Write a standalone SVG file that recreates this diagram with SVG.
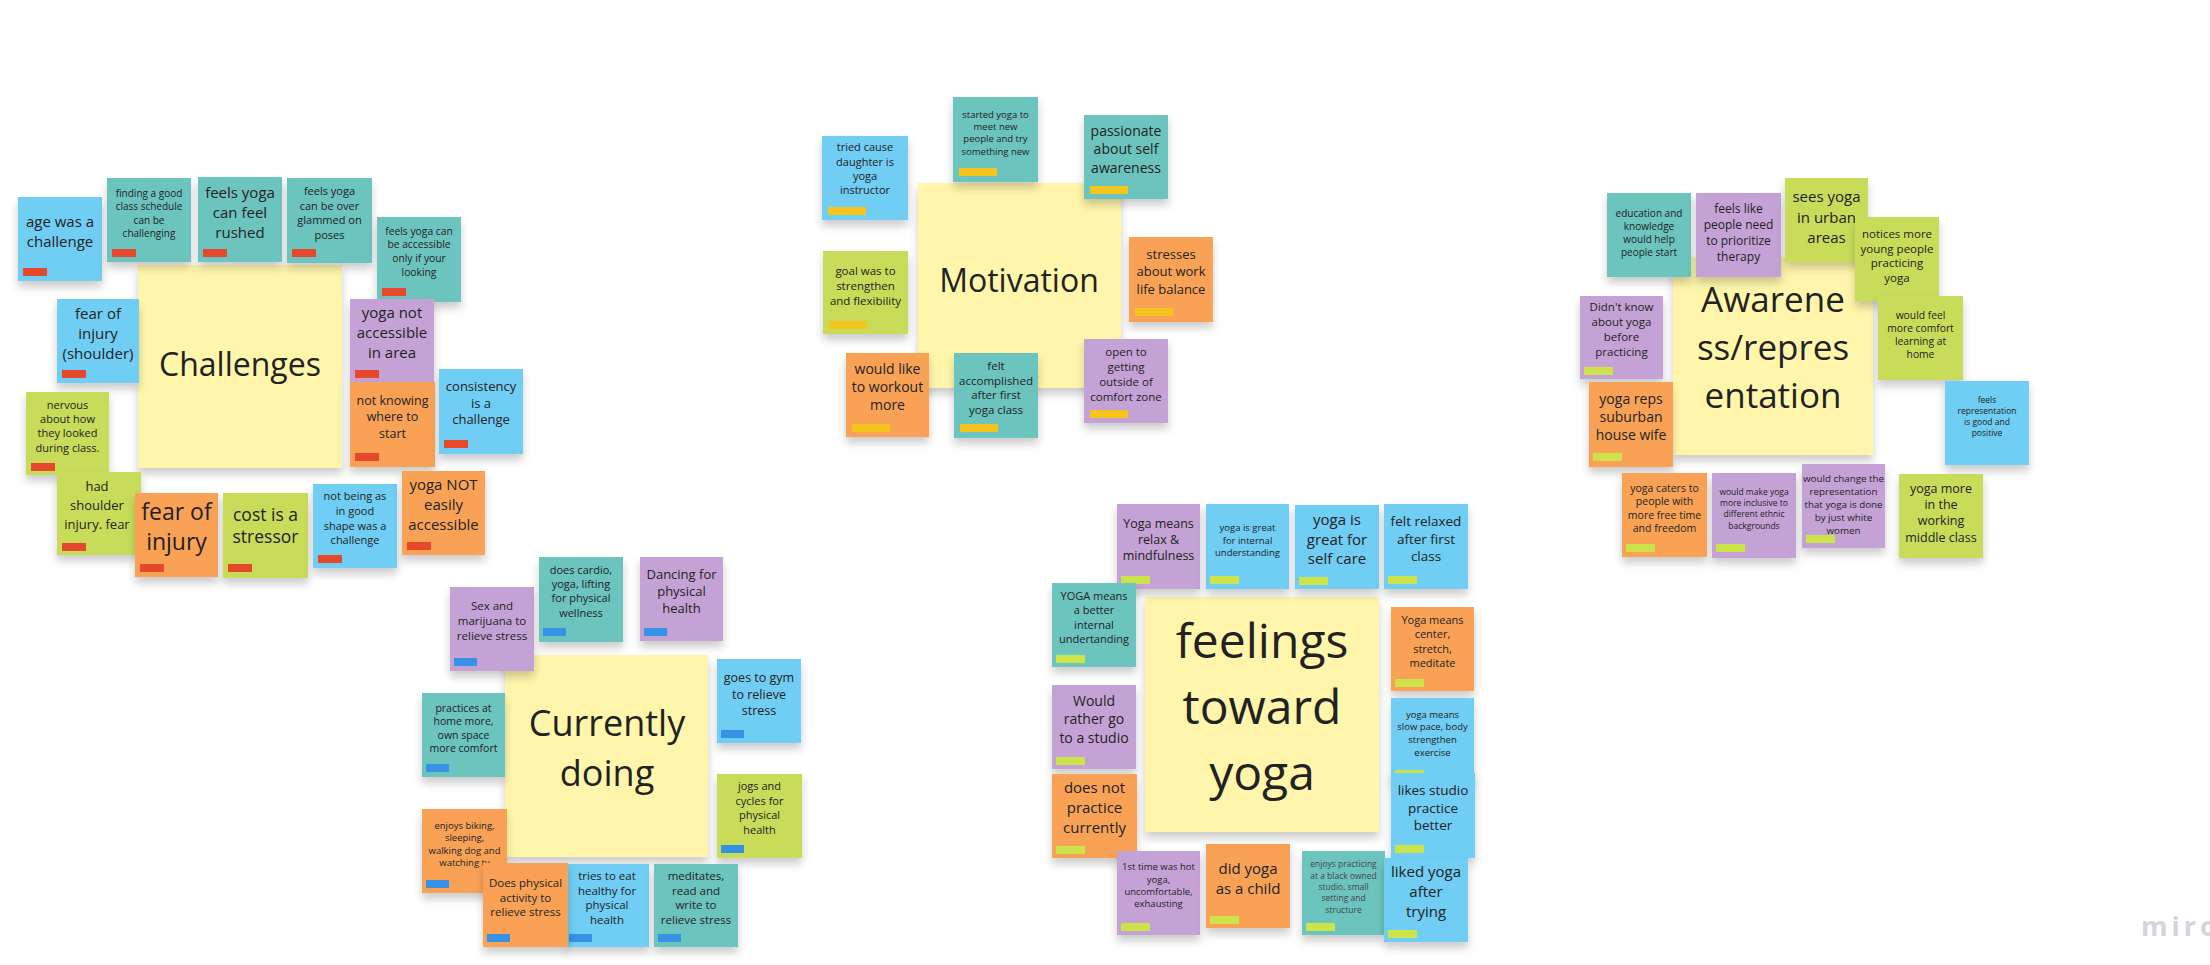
<svg xmlns="http://www.w3.org/2000/svg" width="2210" height="965" viewBox="0 0 2210 965">
<style>
.bg{fill:#ffffff}
.note rect.s{filter:url(#sh)}
.blue{fill:#6fcdf3}.teal{fill:#6cc4bf}.green{fill:#c8dc5a}.orange{fill:#f9a256}.purple{fill:#c5a2d5}.yellow{fill:#fff6ab}
.tr{fill:#e5482b}.ty{fill:#f5c41d}.tl{fill:#cde34a}.tb{fill:#3592e5}
text{font-family:"Open Sans","Liberation Sans",sans-serif;text-anchor:middle;fill:#222222}
.logo{font-family:"Open Sans","Liberation Sans",sans-serif;font-weight:700;fill:#d4d4dc;text-anchor:start;letter-spacing:4px}
</style>
<defs>
<filter id="sh" x="-20%" y="-20%" width="140%" height="150%">
<feDropShadow dx="0" dy="6" stdDeviation="4" flood-color="#000" flood-opacity="0.2"/>
</filter>
</defs>
<rect class="bg" x="0" y="0" width="2210" height="965"/>
<g id="connectors"/>

<!-- CHALLENGES -->
<g id="challenges-title" class="note"><rect class="s yellow" x="138" y="265" width="204" height="203"/><text x="240" y="376" font-size="32">Challenges</text></g>
<g id="c-age" class="note"><rect class="s blue" x="18" y="197" width="84" height="84"/><rect class="tr" x="23" y="268" width="24" height="8"/><text font-size="15" y="227"><tspan x="60">age was a</tspan><tspan x="60" dy="19.5">challenge</tspan></text></g>
<g id="c-finding" class="note"><rect class="s teal" x="107" y="178" width="84" height="84"/><rect class="tr" x="112" y="249" width="24" height="8"/><text font-size="10" y="197"><tspan x="149">finding a good</tspan><tspan x="149" dy="13.3">class schedule</tspan><tspan x="149" dy="13.3">can be</tspan><tspan x="149" dy="13.3">challenging</tspan></text></g>
<g id="c-rushed" class="note"><rect class="s teal" x="198" y="177" width="84" height="85"/><rect class="tr" x="203" y="249" width="24" height="8"/><text font-size="15" y="198"><tspan x="240">feels yoga</tspan><tspan x="240" dy="20">can feel</tspan><tspan x="240" dy="20">rushed</tspan></text></g>
<g id="c-glammed" class="note"><rect class="s teal" x="287" y="178" width="85" height="85"/><rect class="tr" x="292" y="249" width="24" height="8"/><text font-size="11" y="195"><tspan x="329.5">feels yoga</tspan><tspan x="329.5" dy="14.5">can be over</tspan><tspan x="329.5" dy="14.5">glammed on</tspan><tspan x="329.5" dy="14.5">poses</tspan></text></g>
<g id="c-accessible-only" class="note"><rect class="s teal" x="377" y="217" width="84" height="85"/><rect class="tr" x="382" y="288" width="24" height="8"/><text font-size="10.3" y="234.5"><tspan x="419">feels yoga can</tspan><tspan x="419" dy="13.7">be accessible</tspan><tspan x="419" dy="13.7">only if your</tspan><tspan x="419" dy="13.7">looking</tspan></text></g>
<g id="c-not-accessible" class="note"><rect class="s purple" x="350" y="299" width="84" height="84"/><rect class="tr" x="355" y="370" width="24" height="8"/><text font-size="15" y="318"><tspan x="392">yoga not</tspan><tspan x="392" dy="20">accessible</tspan><tspan x="392" dy="20">in area</tspan></text></g>
<g id="c-not-knowing" class="note"><rect class="s orange" x="350" y="382" width="85" height="85"/><rect class="tr" x="355" y="453" width="24" height="8"/><text font-size="12.5" y="405"><tspan x="392.5">not knowing</tspan><tspan x="392.5" dy="16.3">where to</tspan><tspan x="392.5" dy="16.3">start</tspan></text></g>
<g id="c-consistency" class="note"><rect class="s blue" x="439" y="369" width="84" height="85"/><rect class="tr" x="444" y="440" width="24" height="8"/><text font-size="13" y="391"><tspan x="481">consistency</tspan><tspan x="481" dy="16.7">is a</tspan><tspan x="481" dy="16.7">challenge</tspan></text></g>
<g id="c-fear-shoulder" class="note"><rect class="s blue" x="57" y="299" width="82" height="84"/><rect class="tr" x="62" y="370" width="24" height="8"/><text font-size="15" y="318.5"><tspan x="98">fear of</tspan><tspan x="98" dy="20">injury</tspan><tspan x="98" dy="20">(shoulder)</tspan></text></g>
<g id="c-nervous" class="note"><rect class="s green" x="26" y="392" width="83" height="83"/><rect class="tr" x="31" y="463" width="24" height="8"/><text font-size="11" y="408.7"><tspan x="67.5">nervous</tspan><tspan x="67.5" dy="14.3">about how</tspan><tspan x="67.5" dy="14.3">they looked</tspan><tspan x="67.5" dy="14.3">during class.</tspan></text></g>
<g id="c-had-shoulder" class="note"><rect class="s green" x="57" y="472" width="84" height="83"/><rect class="tr" x="62" y="543" width="24" height="8"/><text font-size="13" y="491"><tspan x="97">had</tspan><tspan x="97" dy="19">shoulder</tspan><tspan x="97" dy="19">injury. fear</tspan></text></g>
<g id="c-fear-injury" class="note"><rect class="s orange" x="135" y="493" width="83" height="84"/><rect class="tr" x="140" y="564" width="24" height="8"/><text font-size="23" y="519.5"><tspan x="176.5">fear of</tspan><tspan x="176.5" dy="30">injury</tspan></text></g>
<g id="c-cost" class="note"><rect class="s green" x="223" y="493" width="85" height="85"/><rect class="tr" x="228" y="564" width="24" height="8"/><text font-size="17.5" y="521"><tspan x="265.5">cost is a</tspan><tspan x="265.5" dy="22">stressor</tspan></text></g>
<g id="c-not-being" class="note"><rect class="s blue" x="313" y="484" width="84" height="84"/><rect class="tr" x="318" y="555" width="24" height="8"/><text font-size="11" y="500.3"><tspan x="355">not being as</tspan><tspan x="355" dy="14.7">in good</tspan><tspan x="355" dy="14.7">shape was a</tspan><tspan x="355" dy="14.7">challenge</tspan></text></g>
<g id="c-yoga-not" class="note"><rect class="s orange" x="402" y="471" width="83" height="84"/><rect class="tr" x="407" y="542" width="24" height="8"/><text font-size="15" y="490"><tspan x="443.5">yoga NOT</tspan><tspan x="443.5" dy="20">easily</tspan><tspan x="443.5" dy="20">accessible</tspan></text></g>

<!-- MOTIVATION -->
<g id="motivation-title" class="note"><rect class="s yellow" x="918" y="183" width="203" height="205"/><text x="1019" y="292" font-size="32">Motivation</text></g>
<g id="m-tried" class="note"><rect class="s blue" x="822" y="136" width="86" height="84"/><rect class="ty" x="828" y="207" width="38" height="8"/><text font-size="11" y="151.3"><tspan x="865">tried cause</tspan><tspan x="865" dy="14.3">daughter is</tspan><tspan x="865" dy="14.3">yoga</tspan><tspan x="865" dy="14.3">instructor</tspan></text></g>
<g id="m-started" class="note"><rect class="s teal" x="953" y="97" width="85" height="85"/><rect class="ty" x="959" y="168" width="38" height="8"/><text font-size="9.5" y="117.6"><tspan x="995.5">started yoga to</tspan><tspan x="995.5" dy="12.4">meet new</tspan><tspan x="995.5" dy="12.4">people and try</tspan><tspan x="995.5" dy="12.4">something new</tspan></text></g>
<g id="m-passionate" class="note"><rect class="s teal" x="1084" y="115" width="84" height="84"/><rect class="ty" x="1090" y="186" width="38" height="8"/><text font-size="14" y="135.5"><tspan x="1126">passionate</tspan><tspan x="1126" dy="18.7">about self</tspan><tspan x="1126" dy="18.7">awareness</tspan></text></g>
<g id="m-stresses" class="note"><rect class="s orange" x="1129" y="237" width="84" height="85"/><rect class="ty" x="1135" y="308" width="38" height="8"/><text font-size="13" y="258.5"><tspan x="1171">stresses</tspan><tspan x="1171" dy="17.5">about work</tspan><tspan x="1171" dy="17.5">life balance</tspan></text></g>
<g id="m-goal" class="note"><rect class="s green" x="823" y="251" width="85" height="83"/><rect class="ty" x="829" y="321" width="38" height="8"/><text font-size="11.5" y="274.8"><tspan x="865.5">goal was to</tspan><tspan x="865.5" dy="15">strengthen</tspan><tspan x="865.5" dy="15">and flexibility</tspan></text></g>
<g id="m-would-like" class="note"><rect class="s orange" x="846" y="353" width="83" height="84"/><rect class="ty" x="852" y="424" width="38" height="8"/><text font-size="14" y="373.8"><tspan x="887.5">would like</tspan><tspan x="887.5" dy="18.3">to workout</tspan><tspan x="887.5" dy="18.3">more</tspan></text></g>
<g id="m-felt" class="note"><rect class="s teal" x="954" y="353" width="84" height="85"/><rect class="ty" x="960" y="424" width="38" height="8"/><text font-size="11.5" y="369.8"><tspan x="996">felt</tspan><tspan x="996" dy="14.7">accomplished</tspan><tspan x="996" dy="14.7">after first</tspan><tspan x="996" dy="14.7">yoga class</tspan></text></g>
<g id="m-open" class="note"><rect class="s purple" x="1084" y="339" width="84" height="84"/><rect class="ty" x="1090" y="410" width="38" height="8"/><text font-size="11.5" y="355.8"><tspan x="1126">open to</tspan><tspan x="1126" dy="15">getting</tspan><tspan x="1126" dy="15">outside of</tspan><tspan x="1126" dy="15">comfort zone</tspan></text></g>

<!-- AWARENESS -->
<g id="awareness-title" class="note"><rect class="s yellow" x="1673" y="257" width="200" height="198"/><text font-size="35" y="312"><tspan x="1773">Awarene</tspan><tspan x="1773" dy="48">ss/repres</tspan><tspan x="1773" dy="48">entation</tspan></text></g>
<g id="a-education" class="note"><rect class="s teal" x="1607" y="193" width="84" height="84"/><text font-size="10" y="216.7"><tspan x="1649">education and</tspan><tspan x="1649" dy="13">knowledge</tspan><tspan x="1649" dy="13">would help</tspan><tspan x="1649" dy="13">people start</tspan></text></g>
<g id="a-feels-like" class="note"><rect class="s purple" x="1696" y="193" width="85" height="84"/><text font-size="12" y="212.5"><tspan x="1738.5">feels like</tspan><tspan x="1738.5" dy="16">people need</tspan><tspan x="1738.5" dy="16">to prioritize</tspan><tspan x="1738.5" dy="16">therapy</tspan></text></g>
<g id="a-sees" class="note"><rect class="s green" x="1785" y="178" width="83" height="84"/><text font-size="15" y="202.4"><tspan x="1826.5">sees yoga</tspan><tspan x="1826.5" dy="20.5">in urban</tspan><tspan x="1826.5" dy="20.5">areas</tspan></text></g>
<g id="a-notices" class="note"><rect class="s green" x="1855" y="217" width="84" height="84"/><text font-size="11.5" y="238"><tspan x="1897">notices more</tspan><tspan x="1897" dy="14.7">young people</tspan><tspan x="1897" dy="14.7">practicing</tspan><tspan x="1897" dy="14.7">yoga</tspan></text></g>
<g id="a-would-feel" class="note"><rect class="s green" x="1878" y="296" width="85" height="84"/><text font-size="10.3" y="318.5"><tspan x="1920.5">would feel</tspan><tspan x="1920.5" dy="13.3">more comfort</tspan><tspan x="1920.5" dy="13.3">learning at</tspan><tspan x="1920.5" dy="13.3">home</tspan></text></g>
<g id="a-representation" class="note"><rect class="s blue" x="1945" y="381" width="84" height="84"/><text font-size="8.5" y="403"><tspan x="1987">feels</tspan><tspan x="1987" dy="11">representation</tspan><tspan x="1987" dy="11">is good and</tspan><tspan x="1987" dy="11">positive</tspan></text></g>
<g id="a-didnt-know" class="note"><rect class="s purple" x="1580" y="296" width="83" height="83"/><rect class="tl" x="1584" y="367" width="29" height="8"/><text font-size="11.5" y="311.4"><tspan x="1621.5">Didn't know</tspan><tspan x="1621.5" dy="15">about yoga</tspan><tspan x="1621.5" dy="15">before</tspan><tspan x="1621.5" dy="15">practicing</tspan></text></g>
<g id="a-reps" class="note"><rect class="s orange" x="1589" y="382" width="84" height="85"/><rect class="tl" x="1593" y="453" width="29" height="8"/><text font-size="14" y="403.8"><tspan x="1631">yoga reps</tspan><tspan x="1631" dy="18.3">suburban</tspan><tspan x="1631" dy="18.3">house wife</tspan></text></g>
<g id="a-caters" class="note"><rect class="s orange" x="1622" y="473" width="85" height="84"/><rect class="tl" x="1626" y="544" width="29" height="8"/><text font-size="10.5" y="491.8"><tspan x="1664.5">yoga caters to</tspan><tspan x="1664.5" dy="13.5">people with</tspan><tspan x="1664.5" dy="13.5">more free time</tspan><tspan x="1664.5" dy="13.5">and freedom</tspan></text></g>
<g id="a-inclusive" class="note"><rect class="s purple" x="1712" y="473" width="84" height="85"/><rect class="tl" x="1716" y="544" width="29" height="8"/><text font-size="8.5" y="495"><tspan x="1754">would make yoga</tspan><tspan x="1754" dy="11.2">more inclusive to</tspan><tspan x="1754" dy="11.2">different ethnic</tspan><tspan x="1754" dy="11.2">backgrounds</tspan></text></g>
<g id="a-change" class="note"><rect class="s purple" x="1802" y="464" width="83" height="84"/><rect class="tl" x="1806" y="535" width="29" height="8"/><text font-size="9.8" y="482"><tspan x="1843.5">would change the</tspan><tspan x="1843.5" dy="13">representation</tspan><tspan x="1843.5" dy="13">that yoga is done</tspan><tspan x="1843.5" dy="13">by just white</tspan><tspan x="1843.5" dy="13">women</tspan></text></g>
<g id="a-working" class="note"><rect class="s green" x="1899" y="474" width="84" height="84"/><text font-size="12.5" y="492.7"><tspan x="1941">yoga more</tspan><tspan x="1941" dy="16.3">in the</tspan><tspan x="1941" dy="16.3">working</tspan><tspan x="1941" dy="16.3">middle class</tspan></text></g>

<!-- CURRENTLY DOING -->
<g id="currently-title" class="note"><rect class="s yellow" x="505" y="655" width="203" height="202"/><text font-size="36" y="736"><tspan x="607">Currently</tspan><tspan x="607" dy="50">doing</tspan></text></g>
<g id="d-sex" class="note"><rect class="s purple" x="450" y="587" width="84" height="84"/><rect class="tb" x="454" y="658" width="23" height="8"/><text font-size="11.5" y="610.4"><tspan x="492">Sex and</tspan><tspan x="492" dy="14.7">marijuana to</tspan><tspan x="492" dy="14.7">relieve stress</tspan></text></g>
<g id="d-cardio" class="note"><rect class="s teal" x="539" y="557" width="84" height="85"/><rect class="tb" x="543" y="628" width="23" height="8"/><text font-size="11" y="573.7"><tspan x="581">does cardio,</tspan><tspan x="581" dy="14.3">yoga, lifting</tspan><tspan x="581" dy="14.3">for physical</tspan><tspan x="581" dy="14.3">wellness</tspan></text></g>
<g id="d-dancing" class="note"><rect class="s purple" x="640" y="557" width="83" height="84"/><rect class="tb" x="644" y="628" width="23" height="8"/><text font-size="13" y="578.5"><tspan x="681.5">Dancing for</tspan><tspan x="681.5" dy="17.3">physical</tspan><tspan x="681.5" dy="17.3">health</tspan></text></g>
<g id="d-gym" class="note"><rect class="s blue" x="717" y="659" width="84" height="84"/><rect class="tb" x="721" y="730" width="23" height="8"/><text font-size="12.5" y="682.4"><tspan x="759">goes to gym</tspan><tspan x="759" dy="16.3">to relieve</tspan><tspan x="759" dy="16.3">stress</tspan></text></g>
<g id="d-practices" class="note"><rect class="s teal" x="422" y="693" width="83" height="84"/><rect class="tb" x="426" y="764" width="23" height="8"/><text font-size="10.5" y="711.8"><tspan x="463.5">practices at</tspan><tspan x="463.5" dy="13.5">home more,</tspan><tspan x="463.5" dy="13.5">own space</tspan><tspan x="463.5" dy="13.5">more comfort</tspan></text></g>
<g id="d-jogs" class="note"><rect class="s green" x="717" y="774" width="85" height="84"/><rect class="tb" x="721" y="845" width="23" height="8"/><text font-size="11" y="790.3"><tspan x="759.5">jogs and</tspan><tspan x="759.5" dy="14.5">cycles for</tspan><tspan x="759.5" dy="14.5">physical</tspan><tspan x="759.5" dy="14.5">health</tspan></text></g>
<g id="d-biking" class="note"><rect class="s orange" x="422" y="809" width="85" height="84"/><rect class="tb" x="426" y="880" width="23" height="8"/><text font-size="9.5" y="828.6"><tspan x="464.5">enjoys biking,</tspan><tspan x="464.5" dy="12.5">sleeping,</tspan><tspan x="464.5" dy="12.5">walking dog and</tspan><tspan x="464.5" dy="12.5">watching tv</tspan></text></g>
<g id="d-tries" class="note"><rect class="s blue" x="565" y="864" width="84" height="83"/><rect class="tb" x="569" y="934" width="23" height="8"/><text font-size="11.5" y="879.8"><tspan x="607">tries to eat</tspan><tspan x="607" dy="14.7">healthy for</tspan><tspan x="607" dy="14.7">physical</tspan><tspan x="607" dy="14.7">health</tspan></text></g>
<g id="d-meditates" class="note"><rect class="s teal" x="654" y="864" width="84" height="83"/><rect class="tb" x="658" y="934" width="23" height="8"/><text font-size="11.5" y="879.8"><tspan x="696">meditates,</tspan><tspan x="696" dy="14.7">read and</tspan><tspan x="696" dy="14.7">write to</tspan><tspan x="696" dy="14.7">relieve stress</tspan></text></g>
<g id="d-physical" class="note"><rect class="s orange" x="483" y="863" width="85" height="84"/><rect class="tb" x="487" y="934" width="23" height="8"/><text font-size="11.5" y="887.4"><tspan x="525.5">Does physical</tspan><tspan x="525.5" dy="14.5">activity to</tspan><tspan x="525.5" dy="14.5">relieve stress</tspan></text></g>

<!-- FEELINGS TOWARD YOGA -->
<g id="feelings-title" class="note"><rect class="s yellow" x="1145" y="597" width="234" height="235"/><text font-size="48" y="658"><tspan x="1262">feelings</tspan><tspan x="1262" dy="66">toward</tspan><tspan x="1262" dy="66">yoga</tspan></text></g>
<g id="f-relax" class="note"><rect class="s purple" x="1117" y="504" width="83" height="85"/><rect class="tl" x="1121" y="576" width="29" height="8"/><text font-size="12.5" y="527.7"><tspan x="1158.5">Yoga means</tspan><tspan x="1158.5" dy="16">relax &amp;</tspan><tspan x="1158.5" dy="16">mindfulness</tspan></text></g>
<g id="f-internal" class="note"><rect class="s blue" x="1206" y="504" width="83" height="85"/><rect class="tl" x="1210" y="576" width="29" height="8"/><text font-size="9.5" y="531"><tspan x="1247.5">yoga is great</tspan><tspan x="1247.5" dy="12.5">for internal</tspan><tspan x="1247.5" dy="12.5">understanding</tspan></text></g>
<g id="f-selfcare" class="note"><rect class="s blue" x="1295" y="505" width="84" height="84"/><rect class="tl" x="1299" y="577" width="29" height="8"/><text font-size="15" y="525"><tspan x="1337">yoga is</tspan><tspan x="1337" dy="19.5">great for</tspan><tspan x="1337" dy="19.5">self care</tspan></text></g>
<g id="f-relaxed" class="note"><rect class="s blue" x="1384" y="504" width="84" height="85"/><rect class="tl" x="1388" y="576" width="29" height="8"/><text font-size="13.5" y="526"><tspan x="1426">felt relaxed</tspan><tspan x="1426" dy="17.5">after first</tspan><tspan x="1426" dy="17.5">class</tspan></text></g>
<g id="f-better" class="note"><rect class="s teal" x="1052" y="583" width="84" height="84"/><rect class="tl" x="1056" y="655" width="29" height="8"/><text font-size="11" y="599.7"><tspan x="1094">YOGA means</tspan><tspan x="1094" dy="14.5">a better</tspan><tspan x="1094" dy="14.5">internal</tspan><tspan x="1094" dy="14.5">undertanding</tspan></text></g>
<g id="f-studio" class="note"><rect class="s purple" x="1052" y="685" width="84" height="84"/><rect class="tl" x="1056" y="757" width="29" height="8"/><text font-size="14" y="706"><tspan x="1094">Would</tspan><tspan x="1094" dy="18.3">rather go</tspan><tspan x="1094" dy="18.3">to a studio</tspan></text></g>
<g id="f-not-practice" class="note"><rect class="s orange" x="1052" y="774" width="85" height="84"/><rect class="tl" x="1056" y="846" width="29" height="8"/><text font-size="15" y="793"><tspan x="1094.5">does not</tspan><tspan x="1094.5" dy="20">practice</tspan><tspan x="1094.5" dy="20">currently</tspan></text></g>
<g id="f-hot" class="note"><rect class="s purple" x="1117" y="851" width="83" height="84"/><rect class="tl" x="1121" y="923" width="29" height="8"/><text font-size="9.5" y="870.2"><tspan x="1158.5">1st time was hot</tspan><tspan x="1158.5" dy="12.3">yoga,</tspan><tspan x="1158.5" dy="12.3">uncomfortable,</tspan><tspan x="1158.5" dy="12.3">exhausting</tspan></text></g>
<g id="f-child" class="note"><rect class="s orange" x="1206" y="844" width="84" height="84"/><rect class="tl" x="1210" y="916" width="29" height="8"/><text font-size="15" y="874"><tspan x="1248">did yoga</tspan><tspan x="1248" dy="20">as a child</tspan></text></g>
<g id="f-center" class="note"><rect class="s orange" x="1391" y="607" width="83" height="84"/><rect class="tl" x="1395" y="679" width="29" height="8"/><text font-size="11" y="623.7"><tspan x="1432.5">Yoga means</tspan><tspan x="1432.5" dy="14.5">center,</tspan><tspan x="1432.5" dy="14.5">stretch,</tspan><tspan x="1432.5" dy="14.5">meditate</tspan></text></g>
<g id="f-slow" class="note"><rect class="s blue" x="1391" y="698" width="83" height="84"/><rect class="tl" x="1395" y="770" width="29" height="8"/><text font-size="9.5" y="717.6"><tspan x="1432.5">yoga means</tspan><tspan x="1432.5" dy="12.7">slow pace, body</tspan><tspan x="1432.5" dy="12.7">strengthen</tspan><tspan x="1432.5" dy="12.7">exercise</tspan></text></g>
<g id="f-likes-studio" class="note"><rect class="s blue" x="1391" y="773" width="84" height="85"/><rect class="tl" x="1395" y="845" width="29" height="8"/><text font-size="13.5" y="795.3"><tspan x="1433">likes studio</tspan><tspan x="1433" dy="17.5">practice</tspan><tspan x="1433" dy="17.5">better</tspan></text></g>
<g id="f-black-owned" class="note"><rect class="s teal" x="1302" y="851" width="83" height="84"/><rect class="tl" x="1306" y="923" width="29" height="8"/><text font-size="8.5" y="867.3" style="fill:#444"><tspan x="1343.5">enjoys practicing</tspan><tspan x="1343.5" dy="11.3">at a black owned</tspan><tspan x="1343.5" dy="11.3">studio, small</tspan><tspan x="1343.5" dy="11.3">setting and</tspan><tspan x="1343.5" dy="11.3">structure</tspan></text></g>
<g id="f-liked" class="note"><rect class="s blue" x="1384" y="858" width="84" height="84"/><rect class="tl" x="1388" y="930" width="29" height="8"/><text font-size="15" y="877.4"><tspan x="1426">liked yoga</tspan><tspan x="1426" dy="19.7">after</tspan><tspan x="1426" dy="19.7">trying</tspan></text></g>

<text class="logo" x="2141" y="936" font-size="27">miro</text>
</svg>
